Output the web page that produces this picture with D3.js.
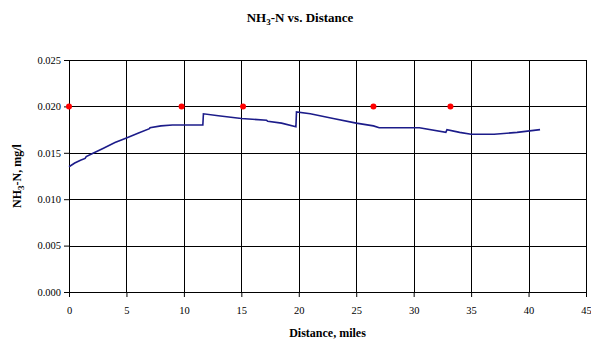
<!DOCTYPE html>
<html>
<head>
<meta charset="utf-8">
<script src="https://cdn.jsdelivr.net/npm/d3@7"></script>
<style>
  body { margin: 0; background: #fff; }
  svg, svg text { font-family: "Liberation Serif", "Times New Roman", "DejaVu Serif", serif !important; }
</style>
</head>
<body>
<div id="chart"></div>
<script>
// donnees
const distance = [0, 0.5, 1.0, 1.4, 1.5, 2, 3, 4, 5, 6, 7.0, 7.05, 8, 9, 10, 11.65,
  11.7, 13, 15, 17.2, 17.3, 18.5, 19.75, 19.8, 21, 23, 25, 26.5, 27, 30, 30.5,
  32.8, 32.9, 34, 35, 37, 39, 41];
const nh3 = [0.0135, 0.0139, 0.0142, 0.0144, 0.0146, 0.0149, 0.0155, 0.0161, 0.0166, 0.0171, 0.0176, 0.0177, 0.0179, 0.0180, 0.0180, 0.0180,
  0.0192, 0.0190, 0.0187, 0.0185, 0.0184, 0.0182, 0.0178, 0.0194, 0.0192, 0.0187, 0.0182, 0.0179, 0.0177, 0.0177, 0.0177,
  0.0172, 0.0175, 0.0172, 0.0170, 0.0170, 0.0172, 0.0175];
const obsDistance = [0, 9.8, 15.15, 26.5, 33.2];
const obsValue = [0.020, 0.020, 0.020, 0.020, 0.020];
const xTicks = [0, 5, 10, 15, 20, 25, 30, 35, 40, 45];
const yTicks = [0, 0.005, 0.010, 0.015, 0.020, 0.025];

const width = 591;
const height = 345;
const margin = {top: 60, right: 5, bottom: 53, left: 69};
const w = width - margin.left - margin.right;
const h = height - margin.top - margin.bottom;
const serif = "'Liberation Serif', 'Times New Roman', serif";

var svg = d3.select("#chart")
    .append("svg")
    .attr("width", width)
    .attr("height", height)
    .attr("font-family", serif);

var g = svg.append("g")
    .attr("transform", "translate(" + margin.left + "," + margin.top + ")");

var x = d3.scaleLinear().domain([0, 45]).range([0, w]);
var y = d3.scaleLinear().domain([0, 0.025]).range([h, 0]);

// grille
g.append("g")
    .selectAll("line")
    .data(xTicks)
    .join("line")
    .attr("x1", d => Math.round(x(d)) + 0.5)
    .attr("x2", d => Math.round(x(d)) + 0.5)
    .attr("y1", 0)
    .attr("y2", h)
    .attr("stroke", "#000")
    .attr("stroke-width", 1);

g.append("g")
    .selectAll("line")
    .data(yTicks)
    .join("line")
    .attr("x1", 0)
    .attr("x2", w)
    .attr("y1", d => Math.round(y(d)) + 0.5)
    .attr("y2", d => Math.round(y(d)) + 0.5)
    .attr("stroke", "#000")
    .attr("stroke-width", 1);

// axes
var xAxis = g.append("g")
    .attr("transform", "translate(0," + h + ")")
    .call(d3.axisBottom(x).tickValues(xTicks).tickSize(5).tickFormat(d3.format("d")));
var yAxis = g.append("g")
    .call(d3.axisLeft(y).tickValues(yTicks).tickSize(5).tickFormat(d3.format(".3f")));

[xAxis, yAxis].forEach(a => {
    a.attr("font-family", serif).attr("font-size", 10.5);
    a.select(".domain").attr("stroke", "#000");
    a.selectAll("text").attr("fill", "#000");
});
xAxis.selectAll("text").attr("dy", "1.3em");

// courbe
var line = d3.line()
    .x((d, i) => x(distance[i]))
    .y((d, i) => y(nh3[i]));

g.append("path")
    .datum(nh3)
    .attr("d", line)
    .attr("fill", "none")
    .attr("stroke", "#1c1c8a")
    .attr("stroke-width", 1.6);

// points observes
g.append("g")
    .selectAll("circle")
    .data(obsValue)
    .join("circle")
    .attr("cx", (d, i) => x(obsDistance[i]))
    .attr("cy", d => y(d))
    .attr("r", 3)
    .attr("fill", "#ff0000");

// titres
var title = svg.append("text")
    .attr("x", 300)
    .attr("y", 22)
    .attr("text-anchor", "middle")
    .style("font-size", "13px")
    .style("font-weight", "bold");
title.append("tspan").text("NH");
title.append("tspan").text("3").attr("dy", 3).style("font-size", "9px");
title.append("tspan").text("-N vs. Distance").attr("dy", -3);

svg.append("text")
    .attr("x", margin.left + w / 2)
    .attr("y", 337)
    .attr("text-anchor", "middle")
    .style("font-size", "12px")
    .style("font-weight", "bold")
    .text("Distance, miles");

var ylab = svg.append("text")
    .attr("transform", "translate(21," + (margin.top + h / 2) + ") rotate(-90)")
    .attr("text-anchor", "middle")
    .style("font-size", "12px")
    .style("font-weight", "bold");
ylab.append("tspan").text("NH");
ylab.append("tspan").text("3").attr("dy", 3).style("font-size", "9px");
ylab.append("tspan").text("-N, mg/l").attr("dy", -3);
</script>
</body>
</html>
